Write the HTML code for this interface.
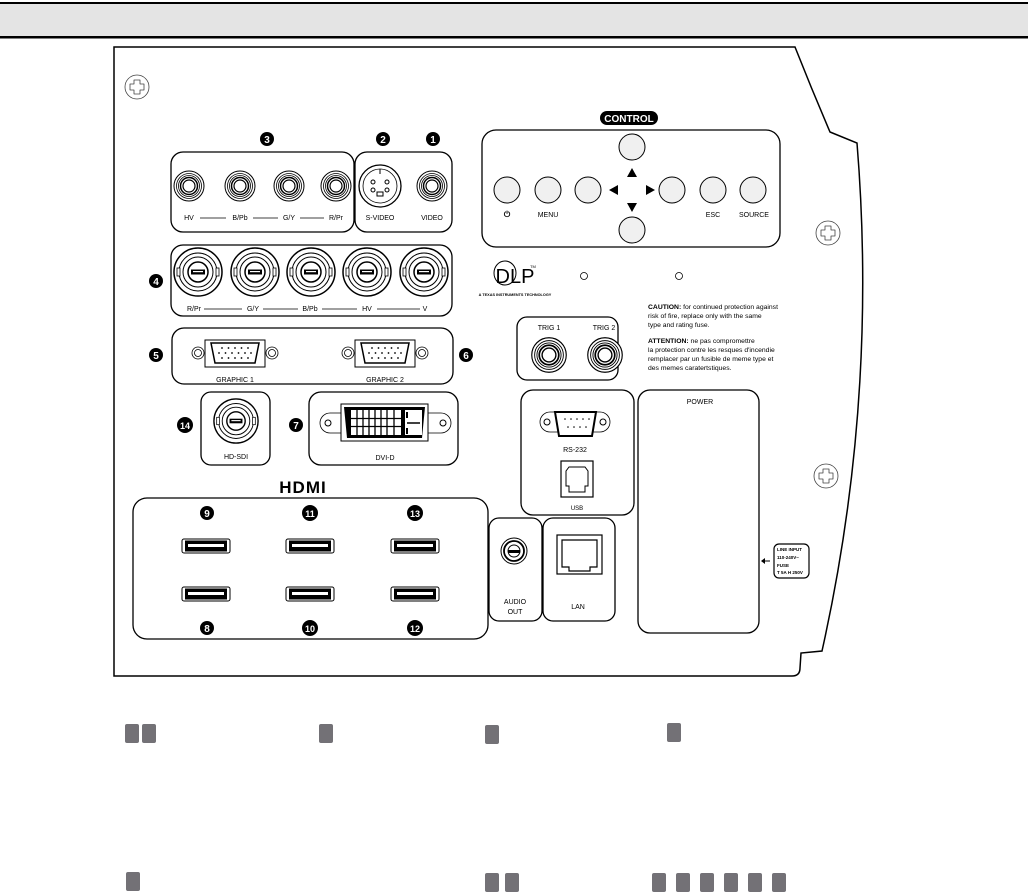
<!DOCTYPE html>
<html><head><meta charset="utf-8"><style>
html,body{margin:0;padding:0;background:#fff;}
svg{display:block;font-family:"Liberation Sans",sans-serif;}
</style></head><body>
<svg width="1028" height="895" viewBox="0 0 1028 895" xmlns="http://www.w3.org/2000/svg">
<defs>
<g id="screw"><circle r="12" fill="#fff" stroke="#444" stroke-width="0.8"/><path d="M-3,-7 L3,-7 L3,-3 L7,-3 L7,3 L3,3 L3,7 L-3,7 L-3,3 L-7,3 L-7,-3 L-3,-3 Z" fill="none" stroke="#444" stroke-width="0.8" stroke-linejoin="round"/></g>
<g id="rca"><circle r="15" fill="#fff" stroke="#000" stroke-width="1"/><circle r="12.5" fill="none" stroke="#000" stroke-width="0.8"/><circle r="10.5" fill="none" stroke="#000" stroke-width="0.8"/><circle r="8.5" fill="none" stroke="#000" stroke-width="1.5"/><circle r="6" fill="#fff" stroke="#000" stroke-width="1.2"/></g>
<g id="bnc"><circle r="24" fill="#fff" stroke="#000" stroke-width="1.5"/><circle r="19" fill="none" stroke="#000" stroke-width="1"/><circle r="15" fill="none" stroke="#000" stroke-width="1"/><circle r="10" fill="none" stroke="#000" stroke-width="1.5"/><rect x="-7" y="-2.5" width="14" height="5" fill="#000"/><rect x="-5" y="-1" width="10" height="1.2" fill="#fff"/><rect x="-21" y="-4" width="3" height="8" fill="#fff" stroke="#000" stroke-width="0.8"/><rect x="18" y="-4" width="3" height="8" fill="#fff" stroke="#000" stroke-width="0.8"/></g>
<g id="vga"><circle cx="-37" r="6" fill="#fff" stroke="#000" stroke-width="0.8"/><circle cx="-37" r="3.5" fill="none" stroke="#000" stroke-width="0.8"/><circle cx="37" r="6" fill="#fff" stroke="#000" stroke-width="0.8"/><circle cx="37" r="3.5" fill="none" stroke="#000" stroke-width="0.8"/><rect x="-30" y="-13" width="60" height="27" fill="#fff" stroke="#000" stroke-width="1"/><path d="M-24,-10 L24,-10 L20,10 L-20,10 Z" fill="none" stroke="#000" stroke-width="1.5"/><g fill="#000"><circle cx="-13" cy="-5" r="0.9"/><circle cx="-6.5" cy="-5" r="0.9"/><circle cx="0" cy="-5" r="0.9"/><circle cx="6.5" cy="-5" r="0.9"/><circle cx="13" cy="-5" r="0.9"/><circle cx="-16" cy="0" r="0.9"/><circle cx="-9.5" cy="0" r="0.9"/><circle cx="-3" cy="0" r="0.9"/><circle cx="3.5" cy="0" r="0.9"/><circle cx="10" cy="0" r="0.9"/><circle cx="16" cy="0" r="0.9"/><circle cx="-13" cy="5" r="0.9"/><circle cx="-6.5" cy="5" r="0.9"/><circle cx="0" cy="5" r="0.9"/><circle cx="6.5" cy="5" r="0.9"/><circle cx="13" cy="5" r="0.9"/></g></g>
<g id="hdmi"><rect x="-24" y="-7" width="48" height="14" rx="2" fill="#fff" stroke="#000" stroke-width="1"/><rect x="-21" y="-5.5" width="42" height="11" fill="#000"/><rect x="-18" y="-2" width="36" height="3" fill="#fff"/></g>
<g id="btn"><circle r="13" fill="#f0f0f0" stroke="#000" stroke-width="1"/></g>
</defs>

<rect x="0" y="3" width="1028" height="34" fill="#e4e4e4"/>
<rect x="0" y="2" width="1028" height="2" fill="#000"/>
<rect x="0" y="36" width="1028" height="2.5" fill="#000"/>

<path d="M114,676 L114,47 L795,47 Q812,90 830,132 L857,143 Q878,400 822,651 L801,653 L800,668 Q800,676 792,676 Z" fill="#fff" stroke="#000" stroke-width="1.5"/>
<use href="#screw" x="137" y="87"/>
<use href="#screw" x="828" y="233"/>
<use href="#screw" x="826" y="476"/>

<g font-size="7" text-anchor="middle" fill="#000">
<rect x="171" y="152" width="183" height="80" rx="12" fill="none" stroke="#000" stroke-width="1.3"/>
<rect x="355" y="152" width="97" height="80" rx="12" fill="none" stroke="#000" stroke-width="1.3"/>
<use href="#rca" x="189" y="186"/><use href="#rca" x="240" y="186"/><use href="#rca" x="289" y="186"/><use href="#rca" x="336" y="186"/><use href="#rca" x="432" y="186"/>
<circle cx="380" cy="186" r="21" fill="#fff" stroke="#000" stroke-width="1.3"/><circle cx="380" cy="186" r="17" fill="none" stroke="#000" stroke-width="0.8"/>
<circle cx="373" cy="182" r="2" fill="none" stroke="#000"/><circle cx="387" cy="182" r="2" fill="none" stroke="#000"/><circle cx="373" cy="190" r="2" fill="none" stroke="#000"/><circle cx="387" cy="190" r="2" fill="none" stroke="#000"/><rect x="377" y="192" width="6" height="4" fill="none" stroke="#000"/><line x1="380" y1="169" x2="380" y2="174" stroke="#000"/>
<text x="189" y="220">HV</text><text x="240" y="220">B/Pb</text><text x="289" y="220">G/Y</text><text x="336" y="220">R/Pr</text><text x="380" y="220">S-VIDEO</text><text x="432" y="220">VIDEO</text>
<g stroke="#000" stroke-width="0.7"><line x1="200" y1="218" x2="226" y2="218"/><line x1="253" y1="218" x2="278" y2="218"/><line x1="300" y1="218" x2="324" y2="218"/></g>

<rect x="171" y="245" width="281" height="71" rx="12" fill="none" stroke="#000" stroke-width="1.3"/>
<use href="#bnc" x="198" y="272"/><use href="#bnc" x="255" y="272"/><use href="#bnc" x="311" y="272"/><use href="#bnc" x="367" y="272"/><use href="#bnc" x="424" y="272"/>
<text x="194" y="311">R/Pr</text><text x="253" y="311">G/Y</text><text x="310" y="311">B/Pb</text><text x="367" y="311">HV</text><text x="425" y="311">V</text>
<g stroke="#000" stroke-width="0.7"><line x1="204" y1="309" x2="242" y2="309"/><line x1="263" y1="309" x2="298" y2="309"/><line x1="322" y1="309" x2="357" y2="309"/><line x1="377" y1="309" x2="420" y2="309"/></g>

<rect x="172" y="328" width="281" height="56" rx="12" fill="none" stroke="#000" stroke-width="1.3"/>
<use href="#vga" x="235" y="353"/><use href="#vga" x="385" y="353"/>
<text x="235" y="382">GRAPHIC 1</text><text x="385" y="382">GRAPHIC 2</text>

<rect x="201" y="392" width="69" height="73" rx="10" fill="none" stroke="#000" stroke-width="1.3"/>
<g transform="translate(236,421) scale(0.92)"><use href="#bnc"/></g>
<text x="236" y="459">HD-SDI</text>
<rect x="309" y="392" width="149" height="73" rx="12" fill="none" stroke="#000" stroke-width="1.3"/>
<rect x="320" y="413" width="131" height="20" rx="10" fill="#fff" stroke="#000" stroke-width="0.8"/>
<circle cx="328" cy="423" r="3" fill="none" stroke="#000"/><circle cx="443" cy="423" r="3" fill="none" stroke="#000"/>
<rect x="341" y="404" width="87" height="37" fill="#fff" stroke="#000" stroke-width="1"/>
<path d="M344,407 L425,407 L422,438 L347,438 Z" fill="#000"/>
<g fill="#fff"><rect x="351" y="410" width="50" height="25"/></g>
<g stroke="#000" stroke-width="1.3"><line x1="351" y1="418.5" x2="401" y2="418.5"/><line x1="351" y1="426.5" x2="401" y2="426.5"/>
<line x1="357" y1="410" x2="357" y2="435"/><line x1="363" y1="410" x2="363" y2="435"/><line x1="369" y1="410" x2="369" y2="435"/><line x1="375" y1="410" x2="375" y2="435"/><line x1="381" y1="410" x2="381" y2="435"/><line x1="387" y1="410" x2="387" y2="435"/><line x1="394" y1="410" x2="394" y2="435"/></g>
<rect x="405" y="410" width="17" height="25" fill="#fff"/><line x1="407" y1="423" x2="420" y2="423" stroke="#000" stroke-width="1.5"/><rect x="406" y="412" width="2" height="6" fill="#000"/><rect x="406" y="428" width="2" height="6" fill="#000"/>
<text x="385" y="460">DVI-D</text>

<text x="303" y="493" font-size="17" font-weight="bold" letter-spacing="1">HDMI</text>
<rect x="133" y="498" width="355" height="141" rx="14" fill="none" stroke="#000" stroke-width="1.3"/>
<use href="#hdmi" x="206" y="546"/><use href="#hdmi" x="310" y="546"/><use href="#hdmi" x="415" y="546"/>
<use href="#hdmi" x="206" y="594"/><use href="#hdmi" x="310" y="594"/><use href="#hdmi" x="415" y="594"/>

<rect x="489" y="518" width="53" height="103" rx="10" fill="none" stroke="#000" stroke-width="1.3"/>
<circle cx="514" cy="551" r="13" fill="#fff" stroke="#000" stroke-width="1"/><circle cx="514" cy="551" r="10" fill="none" stroke="#000" stroke-width="1.8"/><circle cx="514" cy="551" r="6" fill="#fff" stroke="#000"/><rect x="508" y="550" width="12" height="3" fill="#000"/>
<text x="515" y="604">AUDIO</text><text x="515" y="614">OUT</text>
<rect x="543" y="518" width="72" height="103" rx="10" fill="none" stroke="#000" stroke-width="1.3"/>
<rect x="557" y="535" width="45" height="39" fill="none" stroke="#000" stroke-width="1.2"/>
<path d="M562,540 L597,540 L597,567 L590,567 L590,571 L569,571 L569,567 L562,567 Z" fill="none" stroke="#000" stroke-width="1.2"/>
<text x="578" y="609">LAN</text>

<rect x="482" y="130" width="298" height="117" rx="14" fill="none" stroke="#000" stroke-width="1.3"/>
<rect x="600" y="111" width="58" height="14" rx="7" fill="#000"/>
<text x="629" y="122" font-size="10" font-weight="bold" fill="#fff">CONTROL</text>
<use href="#btn" x="507" y="190"/><use href="#btn" x="548" y="190"/><use href="#btn" x="588" y="190"/><use href="#btn" x="672" y="190"/><use href="#btn" x="713" y="190"/><use href="#btn" x="753" y="190"/>
<use href="#btn" x="632" y="147"/><use href="#btn" x="632" y="230"/>
<path d="M632,168 L637,177 L627,177 Z M632,212 L637,203 L627,203 Z M609,190 L618,185 L618,195 Z M655,190 L646,185 L646,195 Z" fill="#000"/>
<text x="507" y="217" font-weight="bold" font-size="8">⏻</text><text x="548" y="217">MENU</text><text x="713" y="217">ESC</text><text x="754" y="217">SOURCE</text>

<ellipse cx="505" cy="273" rx="11" ry="12" fill="none" stroke="#000" stroke-width="1"/>
<text x="515" y="283" font-size="20">DLP</text>
<text x="533" y="268" font-size="4">TM</text>
<text x="515" y="296" font-size="3.8" font-weight="bold">A TEXAS INSTRUMENTS TECHNOLOGY</text>
<circle cx="584" cy="276" r="3.5" fill="none" stroke="#000" stroke-width="0.8"/><circle cx="679" cy="276" r="3.5" fill="none" stroke="#000" stroke-width="0.8"/>
<g text-anchor="start" font-size="6.8">
<text x="648" y="309"><tspan font-weight="bold">CAUTION:</tspan> for continued protection against</text>
<text x="648" y="318">risk of fire, replace only with the same</text>
<text x="648" y="327">type and rating fuse.</text>
<text x="648" y="343"><tspan font-weight="bold">ATTENTION:</tspan> ne pas compromettre</text>
<text x="648" y="352">la protection contre les resques d'incendie</text>
<text x="648" y="361">remplacer par un fusible de meme type et</text>
<text x="648" y="370">des memes caratertstiques.</text>
</g>

<rect x="517" y="317" width="101" height="63" rx="10" fill="none" stroke="#000" stroke-width="1.3"/>
<text x="549" y="330">TRIG 1</text><text x="604" y="330">TRIG 2</text>
<g transform="translate(549,355) scale(1.15)"><use href="#rca"/></g><g transform="translate(605,355) scale(1.15)"><use href="#rca"/></g>

<rect x="521" y="390" width="113" height="125" rx="12" fill="none" stroke="#000" stroke-width="1.3"/>
<rect x="540" y="412" width="70" height="20" rx="10" fill="#fff" stroke="#000" stroke-width="0.8"/>
<circle cx="547" cy="422" r="3" fill="none" stroke="#000"/><circle cx="603" cy="422" r="3" fill="none" stroke="#000"/>
<path d="M555,412 L596,412 L592,436 L559,436 Z" fill="#fff" stroke="#000" stroke-width="2"/>
<g fill="#000"><circle cx="565" cy="419" r="0.8"/><circle cx="571" cy="419" r="0.8"/><circle cx="577" cy="419" r="0.8"/><circle cx="583" cy="419" r="0.8"/><circle cx="589" cy="419" r="0.8"/><circle cx="568" cy="427" r="0.8"/><circle cx="574" cy="427" r="0.8"/><circle cx="580" cy="427" r="0.8"/><circle cx="586" cy="427" r="0.8"/></g>
<text x="575" y="452">RS-232</text>
<rect x="561" y="461" width="32" height="36" fill="none" stroke="#000" stroke-width="1.2"/>
<path d="M569,467 L585,467 L588,471 L588,486 L585,486 L585,492 L569,492 L569,486 L566,486 L566,471 Z" fill="none" stroke="#000"/>
<text x="577" y="510" font-size="6">USB</text>

<rect x="638" y="390" width="121" height="243" rx="12" fill="none" stroke="#000" stroke-width="1.3"/>
<text x="700" y="404">POWER</text>
<path d="M762,561 L770,561" stroke="#000"/><path d="M761,561 L765,558 L765,564 Z" fill="#000"/>
<rect x="774" y="544" width="35" height="34" rx="5" fill="none" stroke="#000" stroke-width="1.2"/>
<g text-anchor="start" font-size="4.5" font-weight="bold"><text x="777" y="551">LINE INPUT</text><text x="777" y="559">110-240V~</text><text x="777" y="567">FUSE</text><text x="777" y="574">T 5A H 250V</text></g>
</g>

<g font-size="10" font-weight="bold" fill="#fff" text-anchor="middle">
<circle cx="267" cy="139" r="7" fill="#000"/><text x="267" y="143">3</text>
<circle cx="383" cy="139" r="7" fill="#000"/><text x="383" y="143">2</text>
<circle cx="433" cy="139" r="7" fill="#000"/><text x="433" y="143">1</text>
<circle cx="156" cy="281" r="7" fill="#000"/><text x="156" y="285">4</text>
<circle cx="156" cy="355" r="7" fill="#000"/><text x="156" y="359">5</text>
<circle cx="466" cy="355" r="7" fill="#000"/><text x="466" y="359">6</text>
<circle cx="185" cy="425" r="8" fill="#000"/><text x="185" y="429" font-size="9">14</text>
<circle cx="296" cy="425" r="7" fill="#000"/><text x="296" y="429">7</text>
<circle cx="207" cy="513" r="7" fill="#000"/><text x="207" y="517">9</text>
<circle cx="310" cy="513" r="8" fill="#000"/><text x="310" y="517" font-size="9">11</text>
<circle cx="415" cy="513" r="8" fill="#000"/><text x="415" y="517" font-size="9">13</text>
<circle cx="207" cy="628" r="7" fill="#000"/><text x="207" y="632">8</text>
<circle cx="310" cy="628" r="8" fill="#000"/><text x="310" y="632" font-size="9">10</text>
<circle cx="415" cy="628" r="8" fill="#000"/><text x="415" y="632" font-size="9">12</text>
</g>

<g fill="#737176">
<rect x="125" y="724" width="14" height="19" rx="2"/><rect x="142" y="724" width="14" height="19" rx="2"/>
<rect x="319" y="724" width="14" height="19" rx="2"/>
<rect x="485" y="725" width="14" height="19" rx="2"/>
<rect x="667" y="723" width="14" height="19" rx="2"/>
<rect x="126" y="872" width="14" height="19" rx="2"/>
<rect x="485" y="873" width="14" height="19" rx="2"/><rect x="505" y="873" width="14" height="19" rx="2"/>
<rect x="652" y="873" width="14" height="19" rx="2"/><rect x="676" y="873" width="14" height="19" rx="2"/><rect x="700" y="873" width="14" height="19" rx="2"/><rect x="724" y="873" width="14" height="19" rx="2"/><rect x="748" y="873" width="14" height="19" rx="2"/><rect x="772" y="873" width="14" height="19" rx="2"/>
</g>
</svg>
</body></html>
